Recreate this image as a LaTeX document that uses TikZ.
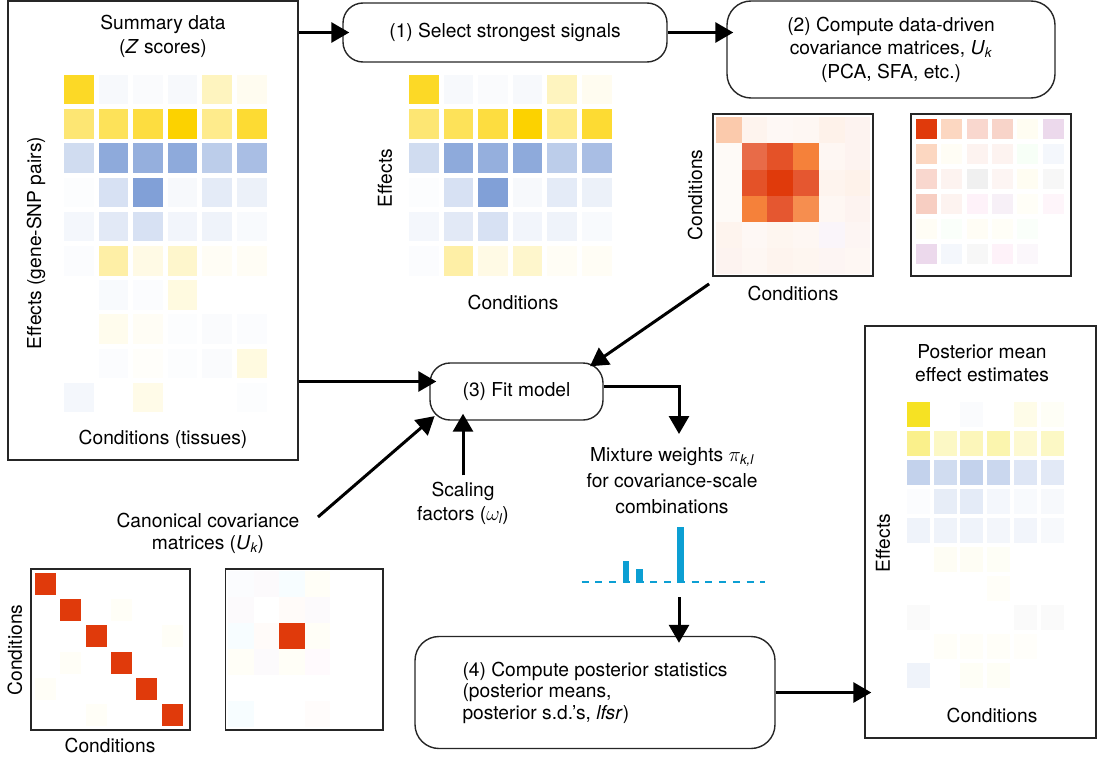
\documentclass[tikz,border=0pt]{standalone}
\usepackage{amsmath}
\usepackage{fontspec}
\setmainfont{TeX Gyre Heros}
\usetikzlibrary{positioning, arrows.meta}
\definecolor{zgold}{HTML}{FCD200}
\definecolor{zblue}{HTML}{7A9BD5}
\definecolor{pgold}{HTML}{F5E118}
\definecolor{covred}{HTML}{E03A0B}
\definecolor{covorg}{HTML}{F47A30}
\definecolor{wcyan}{HTML}{0C9FD3}

% Z scores, top rows are the strongest signals
\newcommand{\zrowstop}{
  {zgold!85, zblue!6, zblue!4, zblue!6, zgold!25, zgold!6},
  {zgold!55, zgold!65, zgold!75, zgold!100, zgold!45, zgold!80},
  {zblue!35, zblue!85, zblue!80, zblue!85, zblue!50, zblue!65},
  {zblue!2, zblue!30, zblue!95, zblue!6, zblue!20, zblue!14},
  {zblue!8, zblue!22, zblue!30, zblue!10, zblue!12, zblue!5},
  {zblue!3, zgold!35, zgold!10, zgold!20, zgold!4, zgold!4}}
\newcommand{\zrowsbot}{
  {white, zblue!5, zblue!3, zgold!12, white, white},
  {white, zgold!7, zgold!4, zblue!2, zblue!4, zblue!3},
  {white, zblue!3, zgold!2, zblue!2, zblue!4, zgold!12},
  {zblue!8, white, zgold!9, white, white, zblue!2}}

\begin{document}
\begin{tikzpicture}[
    x=1pt, y=-1pt,
    font=\fontsize{19.2}{23.5}\selectfont,
    >={Triangle[length=18pt,width=20pt]},
    % Outer panels
    panel/.style={
        draw=black!85, line width=1.4pt,
        rectangle, inner sep=0pt
    },
    % Step boxes
    stepbox/.style={
        draw=black!85, line width=1.4pt,
        rectangle, rounded corners=20pt,
        align=center
    },
    % Matrix frames
    frame/.style={
        draw=black!85, line width=1.8pt,
        rectangle, inner sep=0pt
    },
    lbl/.style={align=center, inner sep=1pt},
    % Arrow style
    arrow/.style={->, line width=3pt, shorten >=-7pt}
]
\useasboundingbox (0,0) rectangle (1097,757);

% Summary data panel
\node[panel, minimum width=290pt, minimum height=459pt] (summary) at (153,230.5) {};
\node[lbl] (sumtitle) at (163,36.5) {Summary data\\(\textit{Z} scores)};
\node[lbl] (sumx) at (163,439) {Conditions (tissues)};
\node[lbl, rotate=90] (sumy) at (36,243) {Effects (gene-SNP pairs)};
\foreach \row [count=\r from 0] in \zrowstop {
    \foreach \cc [count=\c from 0] in \row
        \fill[\cc] (64+\c*34.6, 75+\r*34.2) rectangle ++(29.5,29.5);
}
\foreach \row [count=\r from 6] in \zrowsbot {
    \foreach \cc [count=\c from 0] in \row
        \fill[\cc] (64+\c*34.6, 75+\r*34.2) rectangle ++(29.5,29.5);
}

% Step boxes (top row)
\node[stepbox, minimum width=324pt, minimum height=59pt] (select) at (505,32.5) {(1) Select strongest signals};
\node[stepbox, rounded corners=24pt, minimum width=328pt, minimum height=97pt] (compute) at (891,49.5)
    {(2) Compute data-driven\\covariance matrices, \textit{U}$_{\textit{k}}$\\(PCA, SFA, etc.)};

% Selected signals
\foreach \row [count=\r from 0] in \zrowstop {
    \foreach \cc [count=\c from 0] in \row
        \fill[\cc] (409+\c*34.6, 75+\r*34.2) rectangle ++(29.5,29.5);
}
\node[lbl, rotate=90] (sely) at (385,178) {Effects};
\node[lbl] (selx) at (513,302) {Conditions};

% Data-driven covariance matrices
\foreach \row [count=\r from 0] in {
    {covorg!40, covorg!8, covorg!5, covorg!6, covorg!10, covred!6},
    {covorg!4, covred!75, covred!88, covorg!95, covorg!6, covred!6},
    {covorg!4, covred!88, covred!100, covred!85, covorg!8, covorg!10},
    {covorg!4, covorg!95, covred!85, covorg!85, covorg!6, covred!6},
    {covorg!8, covorg!5, covorg!7, covorg!6, violet!4, covred!5},
    {covred!6, covorg!6, covorg!8, covorg!7, covred!5, covorg!6}} {
    \foreach \cc [count=\c from 0] in \row
        \fill[\cc] (716+\c*25.7, 117.3+\r*26.1) rectangle ++(25.8,26.2);
}
\node[frame, minimum width=160pt, minimum height=162pt] (covA) at (793,195) {};
\node[lbl, rotate=90] (covy) at (695,195) {Conditions};
\node[lbl] (covx) at (793,293) {Conditions};

\foreach \row [count=\r from 0] in {
    {covred!100, covorg!30, covred!20, covred!22, zgold!5, violet!15},
    {covorg!30, zgold!4, covred!6, covred!6, green!3, zblue!8},
    {covred!20, covred!6, black!6, covred!5, zgold!5, black!3},
    {covred!25, covred!6, magenta!5, violet!6, zgold!3, magenta!4},
    {zgold!4, green!2, zgold!4, zgold!3, green!2, white},
    {violet!15, zblue!8, black!3, magenta!5, violet!3, white}} {
    \foreach \cc [count=\c from 0] in \row
        \fill[\cc] (916+\c*25.3, 118.7+\r*25) rectangle ++(21,20.5);
}
\node[frame, minimum width=160pt, minimum height=162pt] (covB) at (991,195) {};

% Fit model
\node[stepbox, minimum width=173pt, minimum height=57pt] (fit) at (516.5,391.5) {(3) Fit model};
\node[lbl] (scaling) at (463,503.5) {Scaling\\factors ($\omega_{\textit{l}}$)};
\node[lbl, font=\fontsize{19.2}{26}\selectfont] (mixture) at (672,481)
    {Mixture weights $\pi_{\textit{k,l}}$\\for covariance-scale\\combinations};

% Mixture weights chart
\draw[wcyan, line width=2.7pt, dash pattern=on 6.8pt off 6.95pt] (581.7,582) -- (765,582);
\fill[wcyan] (622.7,583.4) rectangle (629.3,561);
\fill[wcyan] (636,583.4) rectangle (642.7,569);
\fill[wcyan] (676.7,583.4) rectangle (684,527);

% Canonical covariance matrices
\node[lbl, font=\fontsize{19.2}{21.5}\selectfont] (canon) at (208,533.5)
    {Canonical covariance\\matrices (\textit{U}$_{\textit{k}}$)};
\foreach \i/\j in {3/1, 5/2, 1/3, 0/4, 2/5}
    \fill[zgold!3] (35+\i*25.3, 573+\j*26.2) rectangle ++(21,22);
\foreach \i in {0,...,5}
    \fill[covred] (35+\i*25.3, 573+\i*26.2) rectangle ++(21,22);
\node[frame, minimum width=159pt, minimum height=161pt] (canA) at (110.4,649.5) {};
\node[lbl, rotate=90] (cany) at (15,650) {Conditions};
\node[lbl] (canx) at (110,745) {Conditions};

\foreach \row [count=\r from 0] in {
    {zblue!3, violet!2, cyan!3, zgold!3, white, white},
    {violet!2, white, covorg!3, violet!2, white, white},
    {cyan!3, covorg!3, covred, zgold!3, white, white},
    {zgold!3, violet!2, zgold!3, magenta!2, white, white},
    {white, white, white, white, white, white},
    {cyan!3, white, white, covorg!2, white, white}} {
    \foreach \cc [count=\c from 0] in \row
        \fill[\cc] (228+\c*25.6, 571+\r*26) rectangle ++(25.7,26.1);
}
\node[frame, minimum width=157.5pt, minimum height=161pt] (canB) at (304.3,649.5) {};

% Posterior statistics
\node[stepbox, rounded corners=24pt, align=left, minimum width=360pt, minimum height=112pt,
    font=\fontsize{19.2}{21.5}\selectfont] (poststats) at (595,692.5)
    {(4) Compute posterior statistics\\(posterior means,\\posterior s.d.'s, \textit{lfsr})};

% Posterior mean panel
\node[panel, minimum width=231pt, minimum height=412pt] (posterior) at (980.5,532) {};
\node[lbl, font=\fontsize{19.2}{22.5}\selectfont] (posttitle) at (982,363) {Posterior mean\\effect estimates};
\node[lbl, rotate=90] (posty) at (883,543) {Effects};
\node[lbl] (postx) at (992,715) {Conditions};
\foreach \row [count=\r from 0] in {
    {pgold!95, white, zblue!4, white, pgold!10, pgold!4},
    {pgold!50, pgold!25, pgold!30, pgold!35, pgold!20, pgold!25},
    {zblue!45, zblue!35, zblue!45, zblue!40, zblue!25, zblue!22},
    {zblue!3, zblue!18, zblue!20, zblue!8, zblue!5, zblue!6},
    {zblue!12, zblue!12, zblue!12, zblue!9, zblue!10, zblue!6},
    {white, pgold!5, pgold!5, pgold!4, white, white},
    {white, white, white, pgold!3, white, white},
    {black!2, white, white, white, black!2, black!2},
    {white, pgold!3, pgold!3, pgold!3, pgold!2, white},
    {zblue!12, white, pgold!4, pgold!4, white, white}} {
    \foreach \cc [count=\c from 0] in \row
        \fill[\cc] (907+\c*26.7, 402.3+\r*29) rectangle ++(23,24.5);
}

% Arrows
\draw[arrow] (summary.east |- select.west) -- (select.west);
\draw[arrow] (select.east) -- (select.east -| compute.west);
\coordinate (fitin) at ([yshift=10pt]fit.west);
\draw[arrow] (summary.east |- fitin) -- (fitin);
\draw[arrow] ([xshift=-3pt,yshift=-7pt]covA.south west) -- ([xshift=-8pt]fit.north east);
\coordinate (canout) at (318,517);
\draw[arrow] (canout) -- (fit.south west);
\draw[arrow] ([yshift=6pt]scaling.north) -- (scaling.north |- fit.south);
\coordinate (mixtop) at (679,427);
\draw[arrow] ([yshift=5pt]fit.east) -| (mixtop);
\coordinate (chartout) at (679,597);
\draw[arrow] (chartout) -- (chartout |- poststats.north);
\draw[arrow] (poststats.east) -- (poststats.east -| posterior.west);

\end{tikzpicture}
\end{document}
